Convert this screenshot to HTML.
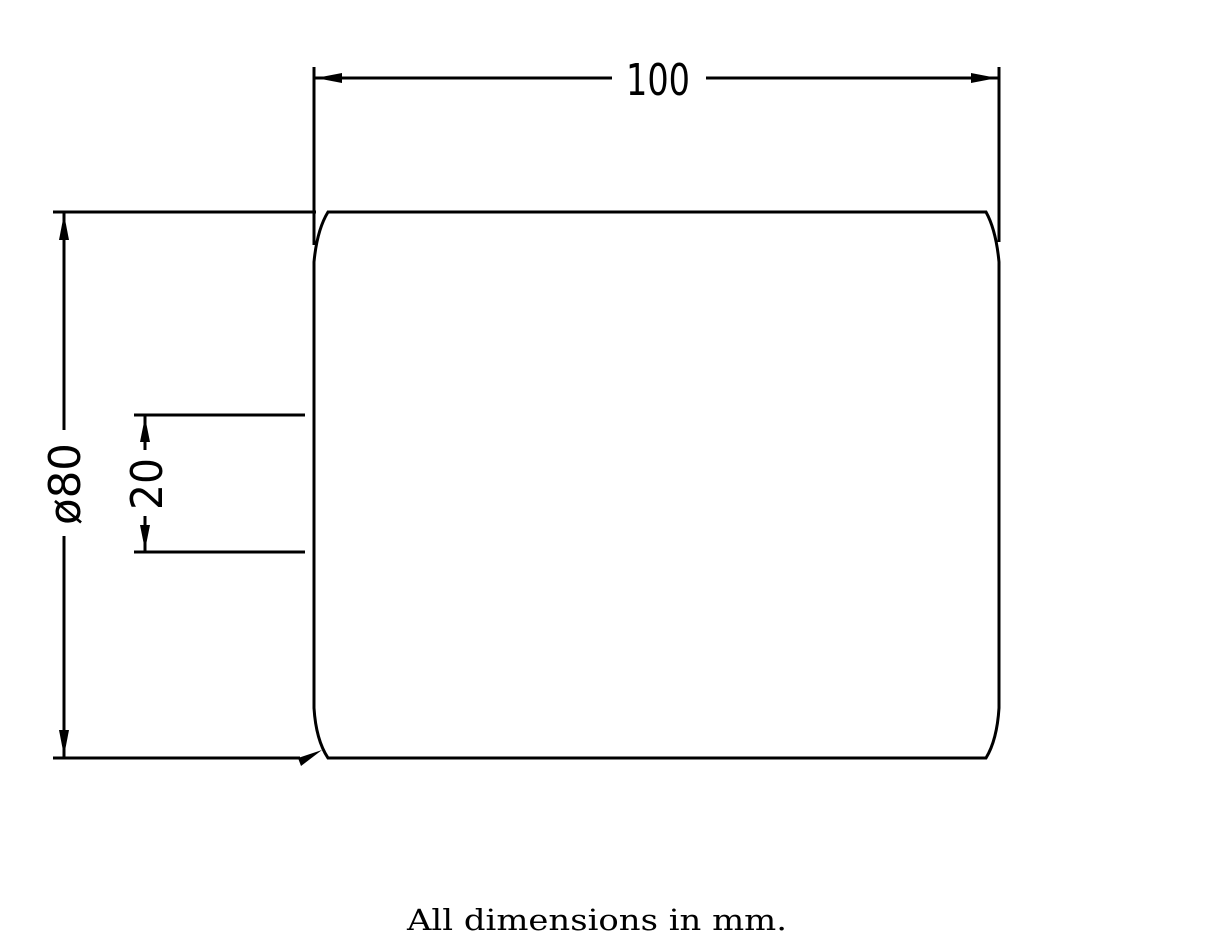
<!DOCTYPE html>
<html><head><meta charset="utf-8"><style>
html,body{margin:0;padding:0;background:#fff;width:1212px;height:942px;overflow:hidden}
</style></head><body>
<svg width="1212" height="942" viewBox="0 0 1212 942" xmlns="http://www.w3.org/2000/svg">
<g stroke="#000" stroke-width="3" fill="none" stroke-linecap="butt">
<!-- body outline -->
<path d="M328,212 L986,212 Q996,230 999,262 L999,708 Q997,740 986,758 L328,758 Q316,740 314,708 L314,262 Q317,230 328,212 Z"/>
<!-- extension lines -->
<line x1="314" y1="67" x2="314" y2="245"/>
<line x1="999" y1="67" x2="999" y2="242"/>
<line x1="53" y1="212" x2="316" y2="212"/>
<line x1="53" y1="758" x2="300" y2="758"/>
<line x1="134" y1="415" x2="305" y2="415"/>
<line x1="134" y1="552" x2="305" y2="552"/>
<!-- top dim -->
<line x1="314" y1="78" x2="612" y2="78"/>
<line x1="706" y1="78" x2="999" y2="78"/>
<!-- left dim -->
<line x1="64" y1="212" x2="64" y2="430"/>
<line x1="64" y1="536" x2="64" y2="758"/>
<!-- 20 dim -->
<line x1="145" y1="415" x2="145" y2="450"/>
<line x1="145" y1="516" x2="145" y2="552"/>
</g>
<g fill="#000">
<polygon points="316,78 342,73 342,83"/>
<polygon points="997,78 971,73 971,83"/>
<polygon points="64,214 59,240 69,240"/>
<polygon points="64,756 59,730 69,730"/>
<polygon points="145,417 140,442 150,442"/>
<polygon points="145,550 140,525 150,525"/>
<polygon points="322,750 298,758 301,766"/>
</g>
<g font-family="'DejaVu Sans','Liberation Sans',sans-serif" fill="#000">
<text x="658" y="95" font-size="44" text-anchor="middle" textLength="64" lengthAdjust="spacingAndGlyphs">100</text>
<text transform="translate(80,484) rotate(-90)" font-size="44" text-anchor="middle" textLength="82" lengthAdjust="spacingAndGlyphs">ø80</text>
<text transform="translate(162,484) rotate(-90)" font-size="44" text-anchor="middle" textLength="52" lengthAdjust="spacingAndGlyphs">20</text>
</g>
<text x="407" y="930" font-family="'DejaVu Serif','Liberation Serif',serif" font-size="29" textLength="380" lengthAdjust="spacingAndGlyphs" fill="#000">All dimensions in mm.</text>
</svg>
</body></html>
